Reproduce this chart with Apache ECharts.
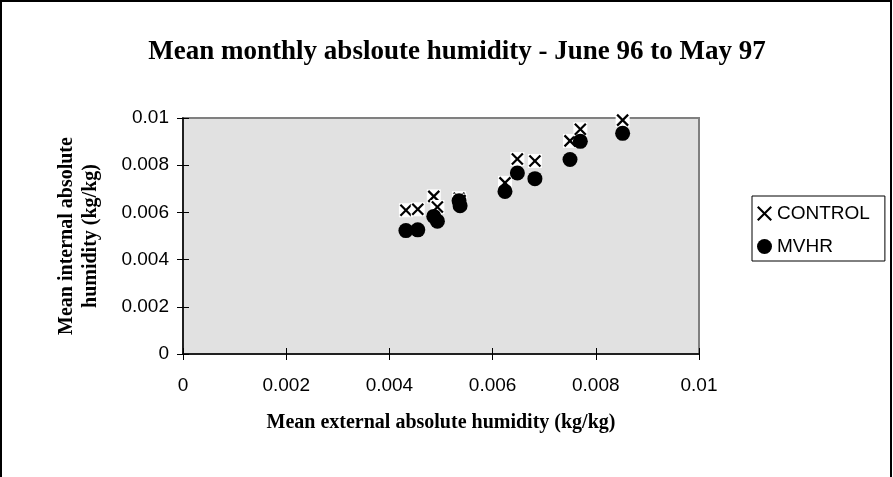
<!DOCTYPE html>
<html>
<head>
<meta charset="utf-8">
<script src="https://cdn.jsdelivr.net/npm/echarts@6/dist/echarts.min.js"></script>
<style>
html,body{margin:0;padding:0;background:#fff;}
#chart{width:893px;height:477px;}
</style>
</head>
<body>
<div id="chart"></div>
<script>
// External absolute humidity (kg/kg) for each month
var externalHumidity = [0.00432, 0.00455, 0.00486, 0.00493, 0.00535, 0.00537, 0.00624, 0.00648, 0.00682, 0.00750, 0.00770, 0.00852];
// Internal absolute humidity (kg/kg)
var controlHumidity = [0.00609, 0.00613, 0.00668, 0.00623, 0.00660, 0.00650, 0.00725, 0.00826, 0.00818, 0.00903, 0.00952, 0.00991];
var mvhrHumidity    = [0.00523, 0.00526, 0.00583, 0.00563, 0.00649, 0.00628, 0.00689, 0.00767, 0.00743, 0.00824, 0.00901, 0.00935];
var seriesNames = ['CONTROL', 'MVHR'];
var tickValues = [0, 0.002, 0.004, 0.006, 0.008, 0.01];

function pairs(xs, ys){ return xs.map(function(x,i){ return [x, ys[i]]; }); }
function fmt(v){ return String(Math.round(v*1000)/1000); }

var chart = echarts.init(document.getElementById('chart'));
var xPath = 'path://M1,0 L5,4 L9,0 L10,1 L6,5 L10,9 L9,10 L5,6 L1,10 L0,9 L4,5 L0,1 Z';
var labelFont = 'Liberation Sans, Arial, sans-serif';
var serif = 'Liberation Serif, Times New Roman, serif';

function axisCommon(){
  return {
    type:'value', min:tickValues[0], max:tickValues[tickValues.length-1], interval:tickValues[1]-tickValues[0],
    splitLine:{show:false}
  };
}

var option = {
  animation:false,
  backgroundColor:'#fff',
  title:{
    text:'Mean monthly absloute humidity - June 96 to May 97',
    left:452, top:34, textAlign:'center',
    textStyle:{fontFamily:serif, fontWeight:'bold', fontSize:27, color:'#000'}
  },
  legend:{
    orient:'vertical', left:752, top:196,
    padding:[8, 15, 5, 5],
    borderColor:'#000', borderWidth:1,
    itemWidth:15, itemHeight:15, itemGap:14,
    textStyle:{fontFamily:labelFont, fontSize:19, color:'#000'},
    data:[{name:'CONTROL', icon:xPath},{name:'MVHR', icon:'circle'}]
  },
  grid:{
    left:183, right:194, top:118, bottom:123,
    show:true, backgroundColor:'#e1e1e1', borderColor:'#808080', borderWidth:2
  },
  xAxis:[
    Object.assign(axisCommon(), {
      position:'bottom',
      axisLine:{show:true, onZero:false, lineStyle:{color:'#000', width:1.5}},
      axisTick:{show:true, length:6, lineStyle:{color:'#000'}},
      axisLabel:{fontFamily:labelFont, fontSize:19, color:'#000', margin:22, formatter:fmt},
      name:'Mean external absolute humidity (kg/kg)', nameLocation:'middle', nameGap:59,
      nameTextStyle:{fontFamily:serif, fontWeight:'bold', fontSize:20, color:'#000'}
    }),
    Object.assign(axisCommon(), {
      position:'bottom', gridIndex:0,
      axisLine:{show:false},
      axisTick:{show:true, inside:true, length:6, lineStyle:{color:'#000'}},
      axisLabel:{show:false}
    })
  ],
  yAxis:[
    Object.assign(axisCommon(), {
      position:'left',
      axisLine:{show:true, onZero:false, lineStyle:{color:'#000', width:1.5}},
      axisTick:{show:true, length:6, lineStyle:{color:'#000'}},
      axisLabel:{fontFamily:labelFont, fontSize:19, color:'#000', margin:14, formatter:fmt},
      name:'Mean internal absolute\nhumidity (kg/kg)', nameLocation:'middle', nameGap:80,
      nameTextStyle:{fontFamily:serif, fontWeight:'bold', fontSize:20, color:'#000', lineHeight:24}
    }),
    Object.assign(axisCommon(), {
      position:'left',
      axisLine:{show:false},
      axisTick:{show:true, inside:true, length:6, lineStyle:{color:'#000'}},
      axisLabel:{show:false}
    })
  ],
  series:[
    {
      name:seriesNames[0], type:'custom', z:3,
      itemStyle:{color:'#000'},
      data:pairs(externalHumidity, controlHumidity),
      renderItem:function(params, api){
        var p = api.coord([api.value(0), api.value(1)]);
        var h = 5.5;
        return {type:'group', children:[
          {type:'rect', shape:{x:p[0]-7, y:p[1]-7, width:14, height:14}, style:{fill:'#fff'}},
          {type:'line', shape:{x1:p[0]-h, y1:p[1]-h, x2:p[0]+h, y2:p[1]+h}, style:{stroke:'#000', lineWidth:2.2}},
          {type:'line', shape:{x1:p[0]-h, y1:p[1]+h, x2:p[0]+h, y2:p[1]-h}, style:{stroke:'#000', lineWidth:2.2}}
        ]};
      }
    },
    {
      name:seriesNames[1], type:'scatter', z:4,
      symbol:'circle', symbolSize:15,
      itemStyle:{color:'#000', opacity:1},
      data:pairs(externalHumidity, mvhrHumidity)
    }
  ],
  graphic:[
    {type:'rect', z:-10, silent:true, shape:{x:1, y:1, width:890, height:490}, style:{fill:'none', stroke:'#000', lineWidth:2}}
  ]
};
chart.setOption(option);
</script>
</body>
</html>
